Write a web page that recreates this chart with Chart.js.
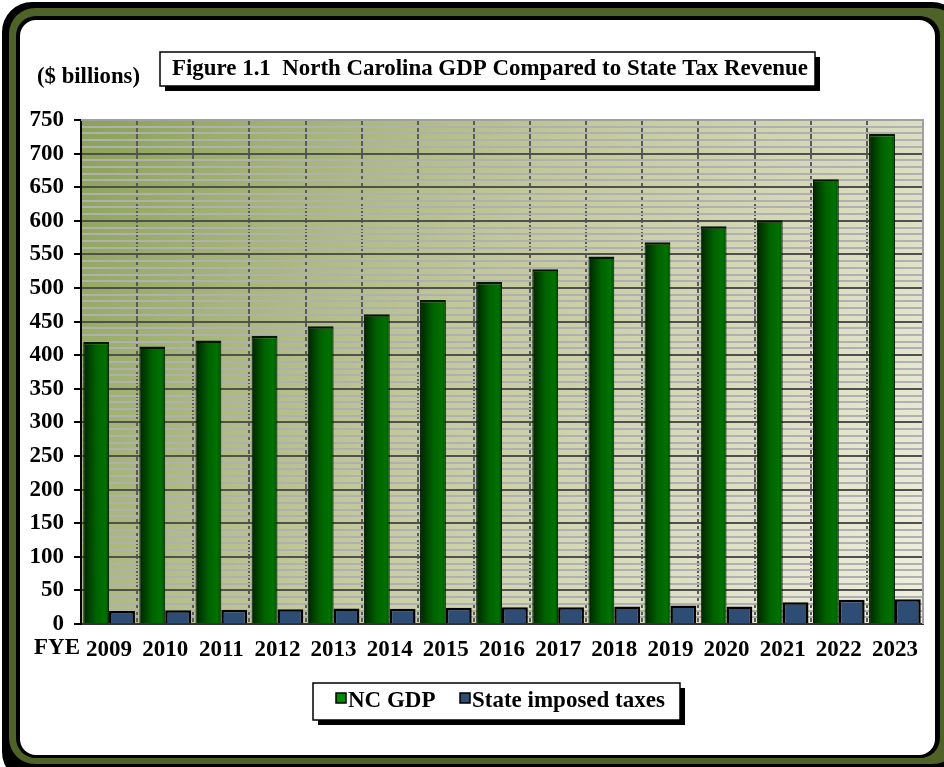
<!DOCTYPE html>
<html>
<head>
<meta charset="utf-8">
<script src="https://cdn.jsdelivr.net/npm/chart.js@4/dist/chart.umd.min.js"></script>
<style>
  html, body { margin: 0; padding: 0; background: #fff; }
  canvas { display: block; }
</style>
</head>
<body>
<canvas id="chart" width="944" height="767"></canvas>
<script>
// ---------- Data ----------
const YEARS = ['2009', '2010', '2011', '2012', '2013', '2014', '2015', '2016',
               '2017', '2018', '2019', '2020', '2021', '2022', '2023'];
const NC_GDP = [420, 413, 422, 429, 443, 461, 482, 509, 528, 547, 568, 592, 601, 662, 729];
const STATE_TAXES = [19.3, 20.3, 21.2, 21.8, 23.2, 22.8, 24.3, 24.8, 25.1, 26.2, 27.6, 26.2, 32.3, 36.1, 36.7];
const Y_MAX = 750;

const SERIF = '"Liberation Serif", "Times New Roman", serif';
const CAT_PCT = 0.92;
const BAR_PCT = 1.0;

// ---------- Helpers ----------
function roundRect(ctx, x, y, w, h, r, fill) {
  ctx.beginPath();
  ctx.moveTo(x + r, y);
  ctx.arcTo(x + w, y, x + w, y + h, r);
  ctx.arcTo(x + w, y + h, x, y + h, r);
  ctx.arcTo(x, y + h, x, y, r);
  ctx.arcTo(x, y, x + w, y, r);
  ctx.closePath();
  ctx.fillStyle = fill;
  ctx.fill();
}

// text squeezed to a given width (the original uses a narrow bold face)
function fitText(ctx, text, x, y, width) {
  const sx = width / ctx.measureText(text).width;
  ctx.save();
  ctx.translate(x, y);
  ctx.scale(sx, 1);
  ctx.fillText(text, 0, 0);
  ctx.restore();
}

// horizontal shading across each GDP bar
function gdpFill(c) {
  const chart = c.chart;
  const xs = chart.scales && chart.scales.x;
  if (!xs || !chart.chartArea) return '#006000';
  const catW = xs.width / YEARS.length;
  const cx = xs.getPixelForValue(c.dataIndex);
  const left = cx - catW * CAT_PCT / 2;
  const right = left + catW * CAT_PCT / 2;
  const g = chart.ctx.createLinearGradient(left, 0, right, 0);
  g.addColorStop(0, '#002400');
  g.addColorStop(0.5, '#006200');
  g.addColorStop(0.85, '#007200');
  g.addColorStop(1, '#004a00');
  return g;
}

// ---------- Plugins ----------
const framePlugin = {
  id: 'frame',
  beforeDraw(chart) {
    const { ctx, chartArea: a } = chart;
    ctx.save();
    // outer border: black, olive, black, white
    roundRect(ctx, 2, 2, 960, 780, 30, '#000');
    roundRect(ctx, 9, 8, 950, 756, 26, '#4f6228');
    roundRect(ctx, 16, 16, 924, 742, 20, '#000');
    roundRect(ctx, 20, 20, 915, 735, 16, '#fff');

    // plot background
    const g = ctx.createLinearGradient(a.left, a.top, a.right, a.bottom);
    g.addColorStop(0, '#8aa256');
    g.addColorStop(0.45, '#c3c99c');
    g.addColorStop(1, '#f0f0e0');
    ctx.fillStyle = g;
    ctx.fillRect(a.left, a.top, a.right - a.left, a.bottom - a.top);
    ctx.restore();
  },
  afterDatasetsDraw(chart) {
    const { ctx, chartArea: a } = chart;
    ctx.save();
    ctx.strokeStyle = '#a0a0a0';
    ctx.lineWidth = 2;
    ctx.beginPath();
    ctx.moveTo(a.left, a.top);
    ctx.lineTo(a.right, a.top);
    ctx.lineTo(a.right, a.bottom);
    ctx.stroke();
    ctx.restore();
  },
  afterDraw(chart) {
    const { ctx } = chart;
    ctx.save();

    // title box with shadow
    ctx.fillStyle = '#000';
    ctx.fillRect(165, 57, 655, 34);
    ctx.fillStyle = '#fff';
    ctx.fillRect(160, 52, 655, 34);
    ctx.strokeStyle = '#000';
    ctx.lineWidth = 1.5;
    ctx.strokeRect(160, 52, 655, 34);

    ctx.fillStyle = '#000';
    ctx.textBaseline = 'middle';
    ctx.textAlign = 'center';
    ctx.font = 'bold 24px ' + SERIF;
    fitText(ctx, 'Figure 1.1  North Carolina GDP Compared to State Tax Revenue', 490, 69, 636);

    ctx.textAlign = 'left';
    ctx.font = 'bold 23px ' + SERIF;
    fitText(ctx, '($ billions)', 37, 77, 103);

    ctx.font = 'bold 23px ' + SERIF;
    ctx.fillText('FYE', 34, 648);

    // legend box with shadow
    ctx.fillStyle = '#000';
    ctx.fillRect(318, 688, 367, 37);
    ctx.fillStyle = '#fff';
    ctx.fillRect(313, 683, 367, 37);
    ctx.strokeRect(313, 683, 367, 37);

    const swatches = ['#008a00', '#2e4d74'];
    const xs = [336, 460];
    chart.data.datasets.forEach((ds, i) => {
      ctx.fillStyle = swatches[i];
      ctx.fillRect(xs[i], 693, 10, 10);
      ctx.strokeStyle = '#000';
      ctx.lineWidth = 1.5;
      ctx.strokeRect(xs[i], 693, 10, 10);
      ctx.fillStyle = '#000';
      ctx.font = 'bold 23px ' + SERIF;
      ctx.fillText(ds.label, xs[i] + 12, 701);
    });
    ctx.restore();
  }
};

// ---------- Chart ----------
const ctx = document.getElementById('chart').getContext('2d');

new Chart(ctx, {
  type: 'bar',
  data: {
    labels: YEARS,
    datasets: [
      {
        label: 'NC GDP',
        data: NC_GDP,
        backgroundColor: gdpFill,
        borderColor: '#001800',
        borderWidth: { top: 2.5, left: 1, right: 1, bottom: 0 },
        categoryPercentage: CAT_PCT,
        barPercentage: BAR_PCT,
      },
      {
        label: 'State imposed taxes',
        data: STATE_TAXES,
        backgroundColor: '#2e4d74',
        borderColor: '#000',
        borderWidth: 2.5,
        categoryPercentage: CAT_PCT,
        barPercentage: BAR_PCT,
      },
    ],
  },
  options: {
    responsive: false,
    animation: false,
    layout: { padding: { left: 0, right: 21, top: 120, bottom: 93 } },
    plugins: {
      legend: { display: false },
      tooltip: { enabled: false },
    },
    scales: {
      x: {
        grid: {
          offset: true,
          color: '#5a5a5a',
          lineWidth: 2,
          drawTicks: false,
        },
        border: { color: '#333', width: 2, dash: [5, 2] },
        ticks: {
          color: '#000',
          font: { family: SERIF, size: 23, weight: 'bold' },
          padding: 12,
          autoSkip: false,
          maxRotation: 0,
        },
        afterFit(scale) { scale.height = 50; },
      },
      y: {
        min: 0,
        max: Y_MAX,
        grid: {
          color: c => (c.tick && c.tick.value % 50 === 0 ? '#505050' : '#b0b0b0'),
          lineWidth: 2,
          tickLength: 7,
          tickColor: c => (c.tick && c.tick.value % 50 === 0 ? '#000' : 'rgba(0,0,0,0)'),
        },
        border: { color: '#000', width: 2 },
        ticks: {
          stepSize: 10,
          autoSkip: false,
          color: '#000',
          padding: 10,
          font: { family: SERIF, size: 23, weight: 'bold' },
          callback: v => (v % 50 === 0 ? v : ''),
        },
        afterFit(scale) { scale.width = 81; },
      },
    },
  },
  plugins: [framePlugin],
});
</script>
</body>
</html>
